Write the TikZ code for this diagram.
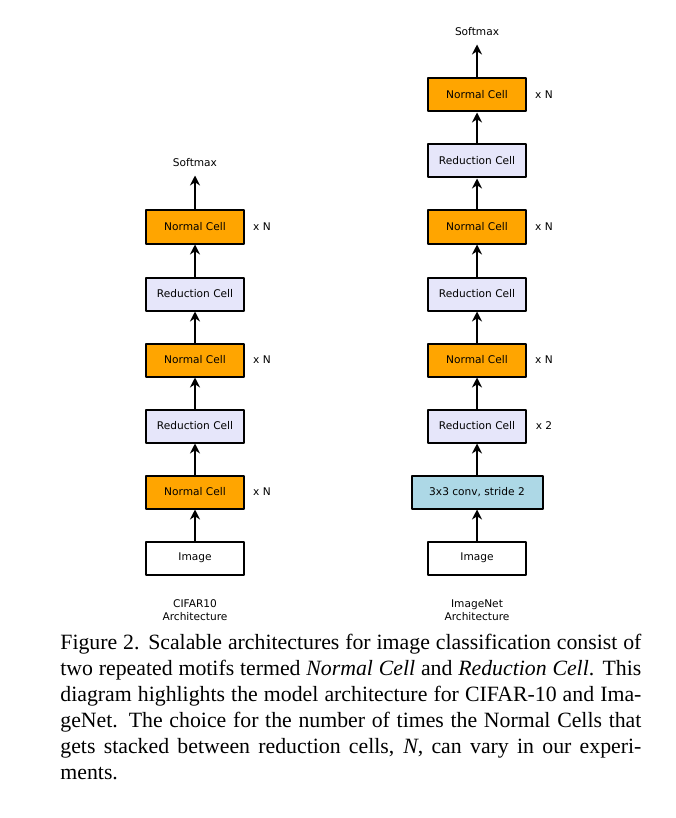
\documentclass[tikz,border=0pt]{standalone}
\usepackage{fontspec}
\setmainfont{Liberation Serif}
\newfontfamily\cellfont{DejaVu Sans}
\usetikzlibrary{arrows.meta}
\definecolor{cellorange}{HTML}{FFA500}
\definecolor{celllavender}{HTML}{E6E6FA}
\definecolor{convblue}{HTML}{ADD8E6}
\tikzset{
	cell/.style={draw, line width=1pt, minimum width=49pt, minimum height=16.5pt, inner sep=0pt, font=\cellfont\fontsize{5.3}{6.4}\selectfont},
	normalcell/.style={cell, fill=cellorange},
	reducecell/.style={cell, fill=celllavender},
	convcell/.style={cell, fill=convblue, minimum width=65.5pt},
	imagecell/.style={cell, fill=white},
	txt/.style={font=\cellfont\fontsize{5.3}{6.4}\selectfont, inner sep=0pt, align=center},
	softmax/.style={txt, inner sep=4pt},
	flow/.style={->, line width=1pt}
}
\begin{document}
\begin{tikzpicture}[x=0.5pt, y=-0.5pt, line join=round, >={Stealth[length=5pt,width=5pt]}]
				\useasboundingbox (0,0) rectangle (675,818);
				% CIFAR10
				\node[imagecell] (lImg) at (195,558) {Image};
				\node[normalcell] (lN1) at (195,492) {Normal Cell};
				\node[reducecell] (lR1) at (195,426) {Reduction Cell};
				\node[normalcell] (lN2) at (195,360) {Normal Cell};
				\node[reducecell] (lR2) at (195,294) {Reduction Cell};
				\node[normalcell] (lN3) at (195,227) {Normal Cell};
				\node[softmax] (lSoft) at (195,163) {Softmax};
				\node[txt] (lName) at (195,610) {CIFAR10\\Architecture};
				\foreach \y/\n in {492/1,360/2,227/3} \node[txt] (lx\n) at (262,\y) {x N};
				% ImageNet
				\node[imagecell] (rImg) at (477,558) {Image};
				\node[convcell] (rConv) at (477,492) {3x3 conv, stride 2};
				\node[reducecell] (rR1) at (477,426) {Reduction Cell};
				\node[normalcell] (rN1) at (477,360) {Normal Cell};
				\node[reducecell] (rR2) at (477,294) {Reduction Cell};
				\node[normalcell] (rN2) at (477,227) {Normal Cell};
				\node[reducecell] (rR3) at (477,161) {Reduction Cell};
				\node[normalcell] (rN3) at (477,95) {Normal Cell};
				\node[softmax] (rSoft) at (477,32) {Softmax};
				\node[txt] (rName) at (477,610) {ImageNet\\Architecture};
				\node[txt] (rx0) at (544,426) {x 2};
				\foreach \y/\n in {360/1,227/2,95/3} \node[txt] (rx\n) at (544,\y) {x N};
				% connectors
				\foreach \a/\b in {lImg/lN1,lN1/lR1,lR1/lN2,lN2/lR2,lR2/lN3,lN3/lSoft,rImg/rConv,rConv/rR1,rR1/rN1,rN1/rR2,rR2/rN2,rN2/rR3,rR3/rN3,rN3/rSoft}
					\draw[flow] (\a) -- (\b);
				% caption
				\node[anchor=north west, text width=290.5pt, align=justify, inner sep=0pt, font=\fontsize{10.9}{13}\selectfont] (caption) at (60,634) {Figure 2. Scalable architectures for image classification consist of\linebreak two repeated motifs termed \textit{Normal Cell} and \textit{Reduction Cell}. This\linebreak diagram highlights the model architecture for CIFAR-10 and Ima-\linebreak geNet. The choice for the number of times the Normal Cells that\linebreak gets stacked between reduction cells, \textit{N}, can vary in our experi-\linebreak ments.};
			\end{tikzpicture}
\end{document}
